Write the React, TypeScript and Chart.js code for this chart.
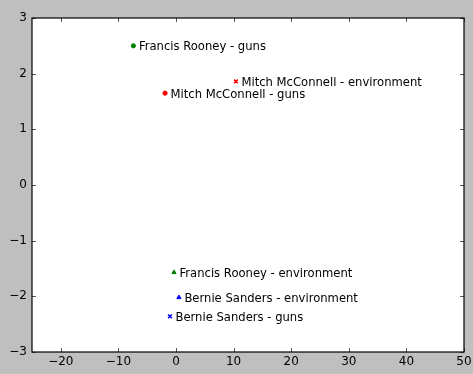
import React, { useEffect, useRef } from "react";
import { Chart, registerables } from "chart.js";

Chart.register(...registerables);

// Politician / topic positions in the 2-D projection
const speakers = [
  "Francis Rooney",
  "Mitch McConnell",
  "Mitch McConnell",
  "Francis Rooney",
  "Bernie Sanders",
  "Bernie Sanders",
];
const topics = ["guns", "environment", "guns", "environment", "environment", "guns"];
const xValues = [-7.4, 10.4, -1.9, -0.35, 0.5, -1.05];
const yValues = [2.5, 1.86, 1.65, -1.57, -2.02, -2.36];

const xTicks = [-20, -10, 0, 10, 20, 30, 40, 50];
const yTicks = [-3, -2, -1, 0, 1, 2, 3];

// Marker appearance per point
const speakerColors: Record<string, string> = {
  "Francis Rooney": "#008000",
  "Mitch McConnell": "#ff0000",
  "Bernie Sanders": "#0000ff",
};
const markerShapes = ["circle", "crossRot", "circle", "triangle", "triangle", "crossRot"];
const markerSizes = [2.1, 2.6, 2.1, 2.4, 2.4, 2.6];
const markerBorders = [1, 1.6, 1, 1, 1, 1.6];

const FONT = "'DejaVu Sans', sans-serif";
const minus = (v: number) => String(v).replace("-", "\u2212");

const framePlugin = {
  id: "frame",
  beforeDraw(chart: any) {
    const { ctx, chartArea: a } = chart;
    ctx.save();
    ctx.fillStyle = "#ffffff";
    ctx.fillRect(a.left, a.top, a.right - a.left, a.bottom - a.top);
    ctx.restore();
  },
  afterDraw(chart: any) {
    const { ctx, chartArea: a, scales } = chart;
    ctx.save();
    // inward tick marks on all four sides
    ctx.strokeStyle = "#555555";
    ctx.lineWidth = 1;
    const len = 4;
    ctx.beginPath();
    xTicks.forEach((t) => {
      const px = Math.round(scales.x.getPixelForValue(t)) + 0.5;
      ctx.moveTo(px, a.bottom);
      ctx.lineTo(px, a.bottom - len);
      ctx.moveTo(px, a.top);
      ctx.lineTo(px, a.top + len);
    });
    yTicks.forEach((t) => {
      const py = Math.round(scales.y.getPixelForValue(t)) + 0.5;
      ctx.moveTo(a.left, py);
      ctx.lineTo(a.left + len, py);
      ctx.moveTo(a.right, py);
      ctx.lineTo(a.right - len, py);
    });
    ctx.stroke();
    // axes frame
    ctx.strokeStyle = "#000000";
    ctx.lineWidth = 1.2;
    ctx.strokeRect(a.left, a.top, a.right - a.left, a.bottom - a.top);
    ctx.restore();
  },
};

const labelPlugin = {
  id: "pointLabels",
  afterDatasetsDraw(chart: any) {
    const { ctx } = chart;
    const meta = chart.getDatasetMeta(0);
    ctx.save();
    ctx.font = `11.6px ${FONT}`;
    ctx.fillStyle = "#000000";
    ctx.textAlign = "left";
    ctx.textBaseline = "middle";
    meta.data.forEach((pt: any, i: number) => {
      ctx.fillText(`${speakers[i]} - ${topics[i]}`, pt.x + 5.5, pt.y + 1.5);
    });
    ctx.restore();
  },
};

export default function App() {
  const canvasRef = useRef<HTMLCanvasElement | null>(null);

  useEffect(() => {
    if (!canvasRef.current) return;
    const colors = speakers.map((s) => speakerColors[s]);
    const chart = new Chart(canvasRef.current, {
      type: "scatter",
      data: {
        datasets: [
          {
            data: xValues.map((x, i) => ({ x, y: yValues[i] })),
            pointStyle: markerShapes as any,
            pointRadius: markerSizes,
            backgroundColor: colors,
            borderColor: colors,
            borderWidth: markerBorders,
          },
        ],
      },
      options: {
        animation: false,
        responsive: true,
        maintainAspectRatio: false,
        layout: { padding: { top: 18, right: 9, left: 0, bottom: 0 } },
        plugins: {
          legend: { display: false },
          tooltip: { enabled: false },
        },
        scales: {
          x: {
            type: "linear",
            min: -25,
            max: 50,
            grid: { display: false, drawTicks: false },
            border: { display: false },
            ticks: {
              includeBounds: false,
              stepSize: 10,
              padding: 3,
              color: "#000000",
              font: { family: FONT, size: 12 },
              callback: (v: any) => minus(Number(v)),
            },
            afterFit: (s: any) => {
              s.height = 22;
              s.paddingLeft = 0;
              s.paddingRight = 0;
            },
          },
          y: {
            type: "linear",
            min: -3,
            max: 3,
            grid: { display: false, drawTicks: false },
            border: { display: false },
            ticks: {
              stepSize: 1,
              padding: 5,
              color: "#000000",
              font: { family: FONT, size: 12 },
              callback: (v: any) => minus(Number(v)),
            },
            afterFit: (s: any) => {
              s.width = 32;
              s.paddingTop = 0;
              s.paddingBottom = 0;
            },
          },
        },
      },
      plugins: [framePlugin, labelPlugin],
    });
    return () => chart.destroy();
  }, []);

  return (
    <div
      style={{
        position: "absolute",
        left: 0,
        top: 0,
        width: 473,
        height: 374,
        background: "#bfbfbf",
      }}
    >
      <canvas ref={canvasRef} />
    </div>
  );
}
